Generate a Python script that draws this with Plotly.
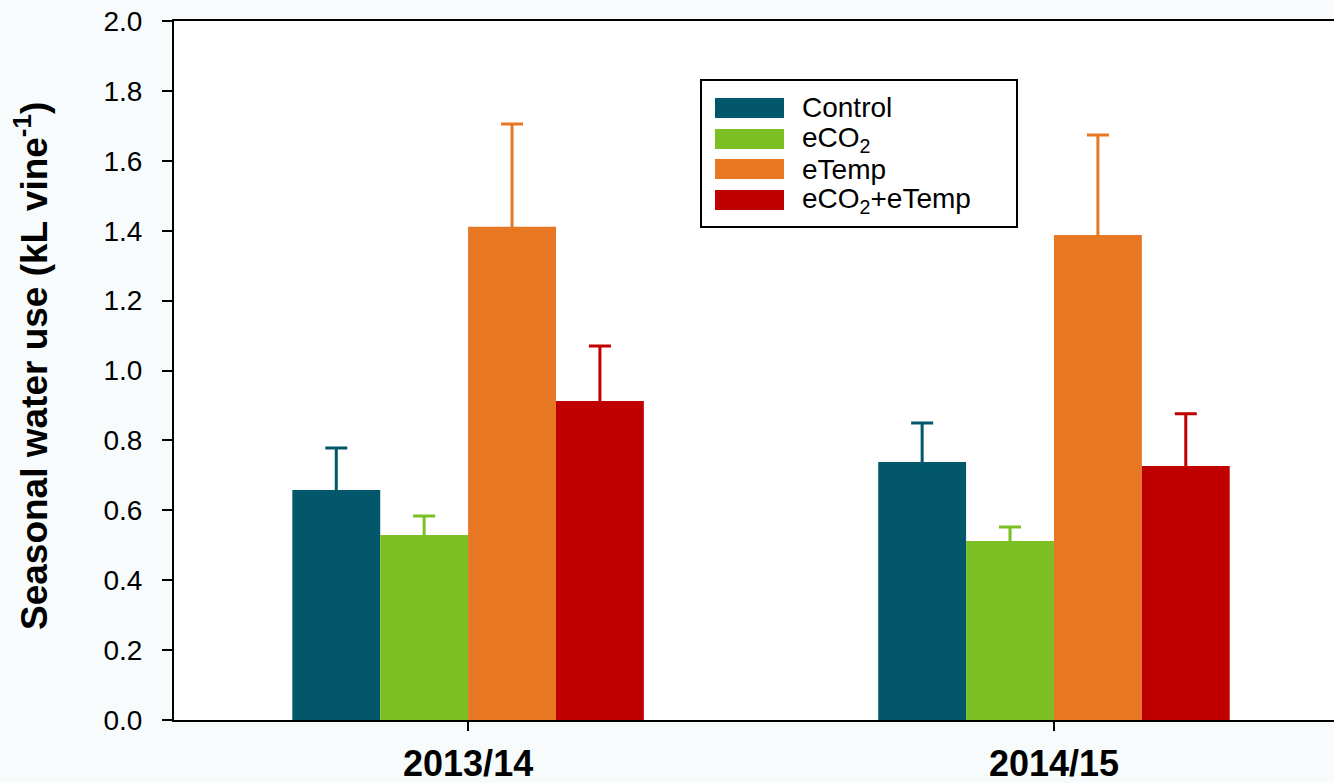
import plotly.graph_objects as go

seasons = ["2013/14", "2014/15"]
treatments = ["Control", "eCO<sub>2</sub>", "eTemp", "eCO<sub>2</sub>+eTemp"]
colors = ["#02586a", "#7bbf23", "#e77722", "#c00000"]
means = {
    "Control": [0.658, 0.738],
    "eCO<sub>2</sub>": [0.529, 0.512],
    "eTemp": [1.411, 1.388],
    "eCO<sub>2</sub>+eTemp": [0.913, 0.727],
}
errors = {
    "Control": [0.120, 0.112],
    "eCO<sub>2</sub>": [0.055, 0.040],
    "eTemp": [0.294, 0.286],
    "eCO<sub>2</sub>+eTemp": [0.157, 0.149],
}
y_ticks = [0.0, 0.2, 0.4, 0.6, 0.8, 1.0, 1.2, 1.4, 1.6, 1.8, 2.0]
y_title = "Seasonal water use (kL vine<sup>-1</sup>)"

W, H = 1334, 783
ml, mr, mt, mb = 174, 0, 21, 63
pw, ph = W - ml - mr, H - mt - mb
FONT = "Liberation Sans, Arial"

fig = go.Figure()
for name, col in zip(treatments, colors):
    fig.add_trace(go.Bar(
        x=seasons, y=means[name], name=name,
        marker=dict(color=col, line=dict(width=0)),
        # lower whisker kept hidden inside the bar (upper-only error bars)
        error_y=dict(type="data", array=errors[name], arrayminus=[0.012] * len(seasons),
                     symmetric=False, color=col, thickness=3, width=11),
        showlegend=False,
    ))

def px_x(p):
    return (p - ml) / pw

def px_y(p):
    return (H - mb - p) / ph

shapes = []
annotations = []
# legend box
shapes.append(dict(type="rect", xref="paper", yref="paper",
                   x0=px_x(701), x1=px_x(1017), y0=px_y(227), y1=px_y(80),
                   line=dict(color="black", width=2), fillcolor="white", layer="above"))
row_centers = [108, 139, 169, 200]
for name, col, cy in zip(treatments, colors, row_centers):
    shapes.append(dict(type="rect", xref="paper", yref="paper",
                       x0=px_x(715), x1=px_x(784), y0=px_y(cy + 10), y1=px_y(cy - 10),
                       line=dict(width=0), fillcolor=col, layer="above"))
    annotations.append(dict(xref="paper", yref="paper", x=px_x(800), y=px_y(cy),
                            xanchor="left", yanchor="middle", showarrow=False,
                            text=name, font=dict(size=28, color="black", family=FONT)))

# y-axis title
annotations.append(dict(xref="paper", yref="paper", x=px_x(31), y=px_y(366),
                        xanchor="center", yanchor="middle", showarrow=False,
                        textangle=-90, text=y_title,
                        font=dict(size=37, color="black", family=FONT, weight="bold")))

fig.update_layout(
    width=W, height=H,
    margin=dict(l=ml, r=mr, t=mt, b=mb, pad=0),
    paper_bgcolor="#f7fbfc",
    plot_bgcolor="white",
    barmode="group",
    bargap=0.4,
    bargroupgap=0,
    font=dict(family=FONT, color="black"),
    shapes=shapes,
    annotations=annotations,
    xaxis=dict(
        type="category",
        range=[-0.502, 1.478],
        showline=True, linecolor="black", linewidth=2, mirror=True,
        ticks="outside", ticklen=9, tickwidth=2, tickcolor="black",
        tickfont=dict(size=36, family=FONT, weight="bold"),
        showgrid=False, zeroline=False,
        ticklabelstandoff=2,
    ),
    yaxis=dict(
        range=[0, 2.0],
        tickvals=y_ticks,
        ticktext=[f"{v:.1f}" for v in y_ticks],
        showline=True, linecolor="black", linewidth=2,
        ticks="outside", ticklen=10, tickwidth=2, tickcolor="black",
        tickfont=dict(size=28, family=FONT),
        showgrid=False, zeroline=False,
        ticklabelstandoff=14,
    ),
)

fig.write_html("out.html",
               config={"displayModeBar": False},
               post_script="document.body.style.margin='0';document.body.style.overflow='hidden';")
